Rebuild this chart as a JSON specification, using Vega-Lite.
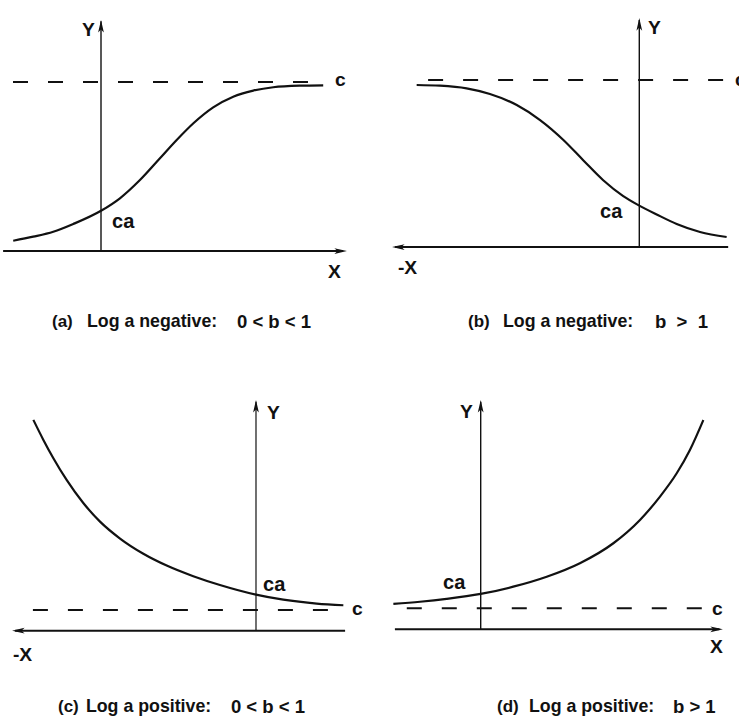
{
  "$schema": "https://vega.github.io/schema/vega-lite/v6.json",
  "padding": 0,
  "background": "white",
  "spacing": 0,
  "config": {
    "view": {"stroke": null},
    "axis": {"disable": true},
    "concat": {"spacing": 0},
    "text": {"font": "Liberation Sans", "fontWeight": "bold", "fill": "#111"}
  },
  "datasets": {
    "a": [
      {"kind": "yaxis", "x": 0, "y": 0, "x2": 0, "y2": 1.36},
      {"kind": "xaxis", "x": -4.45, "y": 0, "x2": 11.0, "y2": 0},
      {"kind": "asymptote", "x": -4.0, "y": 1, "x2": 9.5, "y2": 1},
      {"kind": "tip_y", "x": 0, "y": 1.367},
      {"kind": "tip_x", "x": 11.18, "y": 0},
      {"kind": "curve", "x": -3.99, "y": 0.061},
      {"kind": "curve", "x": -3.08, "y": 0.085},
      {"kind": "curve", "x": -2.17, "y": 0.114},
      {"kind": "curve", "x": -1.26, "y": 0.16},
      {"kind": "curve", "x": 0, "y": 0.238},
      {"kind": "curve", "x": 0.86, "y": 0.312},
      {"kind": "curve", "x": 1.77, "y": 0.42},
      {"kind": "curve", "x": 2.68, "y": 0.549},
      {"kind": "curve", "x": 3.44, "y": 0.657},
      {"kind": "curve", "x": 4.2, "y": 0.756},
      {"kind": "curve", "x": 5.1, "y": 0.85},
      {"kind": "curve", "x": 6.01, "y": 0.913},
      {"kind": "curve", "x": 6.92, "y": 0.949},
      {"kind": "curve", "x": 7.83, "y": 0.969},
      {"kind": "curve", "x": 9.05, "y": 0.978},
      {"kind": "curve", "x": 10.1, "y": 0.98},
      {"kind": "label", "role": "axis", "text": "Y", "x": -0.864, "y": 1.308},
      {"kind": "label", "role": "axis", "text": "X", "x": 10.32, "y": -0.124},
      {"kind": "label", "role": "axis", "text": "c", "x": 10.64, "y": 1.012},
      {"kind": "label", "role": "ca", "text": "ca", "x": 0.5, "y": 0.173},
      {"kind": "label", "role": "tag", "text": "(a)", "x": -2.227, "y": -0.42},
      {"kind": "label", "role": "head", "text": "Log a negative:", "x": -0.636, "y": -0.42},
      {"kind": "label", "role": "cond", "text": "0\u00a0< b\u00a0< 1", "x": 6.18, "y": -0.42}
    ],
    "b": [
      {"kind": "yaxis", "x": 0, "y": 0, "x2": 0, "y2": 1.36},
      {"kind": "xaxis", "x": -11.1, "y": 0, "x2": 4.04, "y2": 0},
      {"kind": "asymptote", "x": -9.6, "y": 1, "x2": 4.6, "y2": 1},
      {"kind": "tip_y", "x": 0, "y": 1.371},
      {"kind": "tip_x", "x": -11.24, "y": 0},
      {"kind": "curve", "x": -10.12, "y": 0.97},
      {"kind": "curve", "x": -9.06, "y": 0.966},
      {"kind": "curve", "x": -7.85, "y": 0.95},
      {"kind": "curve", "x": -6.79, "y": 0.916},
      {"kind": "curve", "x": -5.57, "y": 0.85},
      {"kind": "curve", "x": -4.51, "y": 0.76},
      {"kind": "curve", "x": -3.45, "y": 0.641},
      {"kind": "curve", "x": -2.55, "y": 0.52},
      {"kind": "curve", "x": -1.64, "y": 0.4},
      {"kind": "curve", "x": -0.73, "y": 0.305},
      {"kind": "curve", "x": 0, "y": 0.248},
      {"kind": "curve", "x": 0.79, "y": 0.195},
      {"kind": "curve", "x": 1.7, "y": 0.138},
      {"kind": "curve", "x": 2.76, "y": 0.09},
      {"kind": "curve", "x": 3.97, "y": 0.06},
      {"kind": "label", "role": "axis", "text": "Y", "x": 0.395, "y": 1.311},
      {"kind": "label", "role": "axis", "text": "-X", "x": -10.97, "y": -0.126},
      {"kind": "label", "role": "axis", "text": "c", "x": 4.35, "y": 1.0},
      {"kind": "label", "role": "ca", "text": "ca", "x": -1.786, "y": 0.21},
      {"kind": "label", "role": "tag", "text": "(b)", "x": -7.786, "y": -0.449},
      {"kind": "label", "role": "head", "text": "Log a negative:", "x": -6.195, "y": -0.449},
      {"kind": "label", "role": "cond", "text": "b\u00a0 >\u00a0 1", "x": 0.714, "y": -0.449}
    ],
    "c": [
      {"kind": "yaxis", "x": 0, "y": 0, "x2": 0, "y2": 1.355},
      {"kind": "xaxis", "x": -10.95, "y": 0, "x2": 4.05, "y2": 0},
      {"kind": "asymptote", "x": -10.14, "y": 0.122, "x2": 3.36, "y2": 0.122},
      {"kind": "tip_y", "x": 0, "y": 1.365},
      {"kind": "tip_x", "x": -11.09, "y": 0},
      {"kind": "curve", "x": -10.12, "y": 1.247},
      {"kind": "curve", "x": -9.67, "y": 1.13},
      {"kind": "curve", "x": -9.21, "y": 1.02},
      {"kind": "curve", "x": -8.6, "y": 0.89},
      {"kind": "curve", "x": -7.85, "y": 0.755},
      {"kind": "curve", "x": -7.09, "y": 0.645},
      {"kind": "curve", "x": -6.18, "y": 0.545},
      {"kind": "curve", "x": -5.12, "y": 0.455},
      {"kind": "curve", "x": -4.06, "y": 0.385},
      {"kind": "curve", "x": -2.85, "y": 0.322},
      {"kind": "curve", "x": -1.64, "y": 0.27},
      {"kind": "curve", "x": 0, "y": 0.213},
      {"kind": "curve", "x": 1.24, "y": 0.183},
      {"kind": "curve", "x": 2.76, "y": 0.16},
      {"kind": "curve", "x": 3.97, "y": 0.15},
      {"kind": "label", "role": "axis", "text": "Y", "x": 0.5, "y": 1.288},
      {"kind": "label", "role": "axis", "text": "-X", "x": -11.05, "y": -0.144},
      {"kind": "label", "role": "axis", "text": "c", "x": 4.36, "y": 0.128},
      {"kind": "label", "role": "ca", "text": "ca", "x": 0.32, "y": 0.27},
      {"kind": "label", "role": "tag", "text": "(c)", "x": -9.0, "y": -0.451},
      {"kind": "label", "role": "head", "text": "Log a positive:", "x": -7.73, "y": -0.451},
      {"kind": "label", "role": "cond", "text": "0\u00a0< b\u00a0< 1", "x": -1.14, "y": -0.451}
    ],
    "d": [
      {"kind": "yaxis", "x": 0, "y": 0, "x2": 0, "y2": 1.347},
      {"kind": "xaxis", "x": -3.9, "y": 0, "x2": 10.85, "y2": 0},
      {"kind": "asymptote", "x": -3.36, "y": 0.124, "x2": 10.27, "y2": 0.124},
      {"kind": "tip_y", "x": 0, "y": 1.357},
      {"kind": "tip_x", "x": 11.01, "y": 0},
      {"kind": "curve", "x": -3.97, "y": 0.15},
      {"kind": "curve", "x": -2.76, "y": 0.163},
      {"kind": "curve", "x": -1.55, "y": 0.18},
      {"kind": "curve", "x": 0, "y": 0.209},
      {"kind": "curve", "x": 1.48, "y": 0.252},
      {"kind": "curve", "x": 3.0, "y": 0.311},
      {"kind": "curve", "x": 4.51, "y": 0.391},
      {"kind": "curve", "x": 6.03, "y": 0.509},
      {"kind": "curve", "x": 7.24, "y": 0.647},
      {"kind": "curve", "x": 8.15, "y": 0.785},
      {"kind": "curve", "x": 8.91, "y": 0.923},
      {"kind": "curve", "x": 9.51, "y": 1.061},
      {"kind": "curve", "x": 10.12, "y": 1.238},
      {"kind": "label", "role": "axis", "text": "Y", "x": -0.94, "y": 1.288},
      {"kind": "label", "role": "axis", "text": "X", "x": 10.42, "y": -0.105},
      {"kind": "label", "role": "axis", "text": "c", "x": 10.51, "y": 0.118},
      {"kind": "label", "role": "ca", "text": "ca", "x": -1.71, "y": 0.275},
      {"kind": "label", "role": "tag", "text": "(d)", "x": 0.741, "y": -0.46},
      {"kind": "label", "role": "head", "text": "Log a positive:", "x": 2.195, "y": -0.46},
      {"kind": "label", "role": "cond", "text": "b\u00a0> 1", "x": 8.74, "y": -0.46}
    ]
  },
  "vconcat": [
    {
      "spacing": 0,
      "bounds": "flush",
      "hconcat": [
        {
          "width": 370,
          "height": 380,
          "data": {"name": "a"},
          "encoding": {
            "x": {"field": "x", "type": "quantitative", "scale": {"domain": [-4.591, 12.227], "nice": false, "zero": false}},
            "y": {"field": "y", "type": "quantitative", "scale": {"domain": [-0.763, 1.485], "nice": false, "zero": false}}
          },
          "layer": [
            {"transform": [{"filter": "datum.kind === 'yaxis'"}], "mark": {"type": "rule", "stroke": "#111", "strokeWidth": 1.4}, "encoding": {"x2": {"field": "x2"}, "y2": {"field": "y2"}}},
            {"transform": [{"filter": "datum.kind === 'xaxis'"}], "mark": {"type": "rule", "stroke": "#111", "strokeWidth": 2}, "encoding": {"x2": {"field": "x2"}, "y2": {"field": "y2"}}},
            {"transform": [{"filter": "datum.kind === 'asymptote'"}], "mark": {"type": "rule", "stroke": "#111", "strokeWidth": 2, "strokeDash": [15, 20]}, "encoding": {"x2": {"field": "x2"}, "y2": {"field": "y2"}}},
            {"transform": [{"filter": "datum.kind === 'curve'"}], "mark": {"type": "line", "stroke": "#111", "strokeWidth": 2.2, "interpolate": "monotone"}, "encoding": {}},
            {"transform": [{"filter": "datum.kind === 'tip_y'"}], "mark": {"type": "point", "shape": "M0,0 L0.55,2.4 L0,1.8 L-0.55,2.4 Z", "filled": true, "fill": "#111", "opacity": 1, "size": 110}, "encoding": {}},
            {"transform": [{"filter": "datum.kind === 'tip_x'"}], "mark": {"type": "point", "shape": "M0,0 L0.55,2.4 L0,1.8 L-0.55,2.4 Z", "filled": true, "fill": "#111", "opacity": 1, "size": 110, "angle": 90}, "encoding": {}},
            {"transform": [{"filter": "datum.kind === 'label'"}], "mark": {"type": "text", "align": "left", "baseline": "middle", "clip": true}, "encoding": {"text": {"field": "text"}, "size": {"field": "role", "type": "ordinal", "scale": {"domain": ["tag", "head", "cond", "axis", "ca"], "range": [17, 20, 16, 16, 19]}, "legend": null}}}
          ]
        },
        {
          "width": 369,
          "height": 380,
          "data": {"name": "b"},
          "encoding": {
            "x": {"field": "x", "type": "quantitative", "scale": {"domain": [-12.241, 4.532], "nice": false, "zero": false}},
            "y": {"field": "y", "type": "quantitative", "scale": {"domain": [-0.796, 1.479], "nice": false, "zero": false}}
          },
          "layer": [
            {"transform": [{"filter": "datum.kind === 'yaxis'"}], "mark": {"type": "rule", "stroke": "#111", "strokeWidth": 1.4}, "encoding": {"x2": {"field": "x2"}, "y2": {"field": "y2"}}},
            {"transform": [{"filter": "datum.kind === 'xaxis'"}], "mark": {"type": "rule", "stroke": "#111", "strokeWidth": 2}, "encoding": {"x2": {"field": "x2"}, "y2": {"field": "y2"}}},
            {"transform": [{"filter": "datum.kind === 'asymptote'"}], "mark": {"type": "rule", "stroke": "#111", "strokeWidth": 2, "strokeDash": [15, 20], "clip": true}, "encoding": {"x2": {"field": "x2"}, "y2": {"field": "y2"}}},
            {"transform": [{"filter": "datum.kind === 'curve'"}], "mark": {"type": "line", "stroke": "#111", "strokeWidth": 2.2, "interpolate": "monotone"}, "encoding": {}},
            {"transform": [{"filter": "datum.kind === 'tip_y'"}], "mark": {"type": "point", "shape": "M0,0 L0.55,2.4 L0,1.8 L-0.55,2.4 Z", "filled": true, "fill": "#111", "opacity": 1, "size": 110}, "encoding": {}},
            {"transform": [{"filter": "datum.kind === 'tip_x'"}], "mark": {"type": "point", "shape": "M0,0 L0.55,2.4 L0,1.8 L-0.55,2.4 Z", "filled": true, "fill": "#111", "opacity": 1, "size": 110, "angle": 270}, "encoding": {}},
            {"transform": [{"filter": "datum.kind === 'label'"}], "mark": {"type": "text", "align": "left", "baseline": "middle", "clip": true}, "encoding": {"text": {"field": "text"}, "size": {"field": "role", "type": "ordinal", "scale": {"domain": ["tag", "head", "cond", "axis", "ca"], "range": [17, 20, 16, 16, 19]}, "legend": null}}}
          ]
        }
      ]
    },
    {
      "spacing": 0,
      "bounds": "flush",
      "hconcat": [
        {
          "width": 370,
          "height": 338,
          "data": {"name": "c"},
          "encoding": {
            "x": {"field": "x", "type": "quantitative", "scale": {"domain": [-11.636, 5.182], "nice": false, "zero": false}},
            "y": {"field": "y", "type": "quantitative", "scale": {"domain": [-0.517, 1.483], "nice": false, "zero": false}}
          },
          "layer": [
            {"transform": [{"filter": "datum.kind === 'yaxis'"}], "mark": {"type": "rule", "stroke": "#111", "strokeWidth": 1.2}, "encoding": {"x2": {"field": "x2"}, "y2": {"field": "y2"}}},
            {"transform": [{"filter": "datum.kind === 'xaxis'"}], "mark": {"type": "rule", "stroke": "#111", "strokeWidth": 2}, "encoding": {"x2": {"field": "x2"}, "y2": {"field": "y2"}}},
            {"transform": [{"filter": "datum.kind === 'asymptote'"}], "mark": {"type": "rule", "stroke": "#111", "strokeWidth": 2, "strokeDash": [15, 20]}, "encoding": {"x2": {"field": "x2"}, "y2": {"field": "y2"}}},
            {"transform": [{"filter": "datum.kind === 'curve'"}], "mark": {"type": "line", "stroke": "#111", "strokeWidth": 2.2, "interpolate": "monotone"}, "encoding": {}},
            {"transform": [{"filter": "datum.kind === 'tip_y'"}], "mark": {"type": "point", "shape": "M0,0 L0.55,2.4 L0,1.8 L-0.55,2.4 Z", "filled": true, "fill": "#111", "opacity": 1, "size": 110}, "encoding": {}},
            {"transform": [{"filter": "datum.kind === 'tip_x'"}], "mark": {"type": "point", "shape": "M0,0 L0.55,2.4 L0,1.8 L-0.55,2.4 Z", "filled": true, "fill": "#111", "opacity": 1, "size": 110, "angle": 270}, "encoding": {}},
            {"transform": [{"filter": "datum.kind === 'label'"}], "mark": {"type": "text", "align": "left", "baseline": "middle", "clip": true}, "encoding": {"text": {"field": "text"}, "size": {"field": "role", "type": "ordinal", "scale": {"domain": ["tag", "head", "cond", "axis", "ca"], "range": [17, 20, 16, 16, 19]}, "legend": null}}}
          ]
        },
        {
          "width": 369,
          "height": 338,
          "data": {"name": "d"},
          "encoding": {
            "x": {"field": "x", "type": "quantitative", "scale": {"domain": [-5.032, 11.741], "nice": false, "zero": false}},
            "y": {"field": "y", "type": "quantitative", "scale": {"domain": [-0.525, 1.475], "nice": false, "zero": false}}
          },
          "layer": [
            {"transform": [{"filter": "datum.kind === 'yaxis'"}], "mark": {"type": "rule", "stroke": "#111", "strokeWidth": 1.4}, "encoding": {"x2": {"field": "x2"}, "y2": {"field": "y2"}}},
            {"transform": [{"filter": "datum.kind === 'xaxis'"}], "mark": {"type": "rule", "stroke": "#111", "strokeWidth": 2}, "encoding": {"x2": {"field": "x2"}, "y2": {"field": "y2"}}},
            {"transform": [{"filter": "datum.kind === 'asymptote'"}], "mark": {"type": "rule", "stroke": "#111", "strokeWidth": 2, "strokeDash": [15, 20]}, "encoding": {"x2": {"field": "x2"}, "y2": {"field": "y2"}}},
            {"transform": [{"filter": "datum.kind === 'curve'"}], "mark": {"type": "line", "stroke": "#111", "strokeWidth": 2.2, "interpolate": "monotone"}, "encoding": {}},
            {"transform": [{"filter": "datum.kind === 'tip_y'"}], "mark": {"type": "point", "shape": "M0,0 L0.55,2.4 L0,1.8 L-0.55,2.4 Z", "filled": true, "fill": "#111", "opacity": 1, "size": 110}, "encoding": {}},
            {"transform": [{"filter": "datum.kind === 'tip_x'"}], "mark": {"type": "point", "shape": "M0,0 L0.55,2.4 L0,1.8 L-0.55,2.4 Z", "filled": true, "fill": "#111", "opacity": 1, "size": 110, "angle": 90}, "encoding": {}},
            {"transform": [{"filter": "datum.kind === 'label'"}], "mark": {"type": "text", "align": "left", "baseline": "middle", "clip": true}, "encoding": {"text": {"field": "text"}, "size": {"field": "role", "type": "ordinal", "scale": {"domain": ["tag", "head", "cond", "axis", "ca"], "range": [17, 20, 16, 16, 19]}, "legend": null}}}
          ]
        }
      ]
    }
  ]
}
